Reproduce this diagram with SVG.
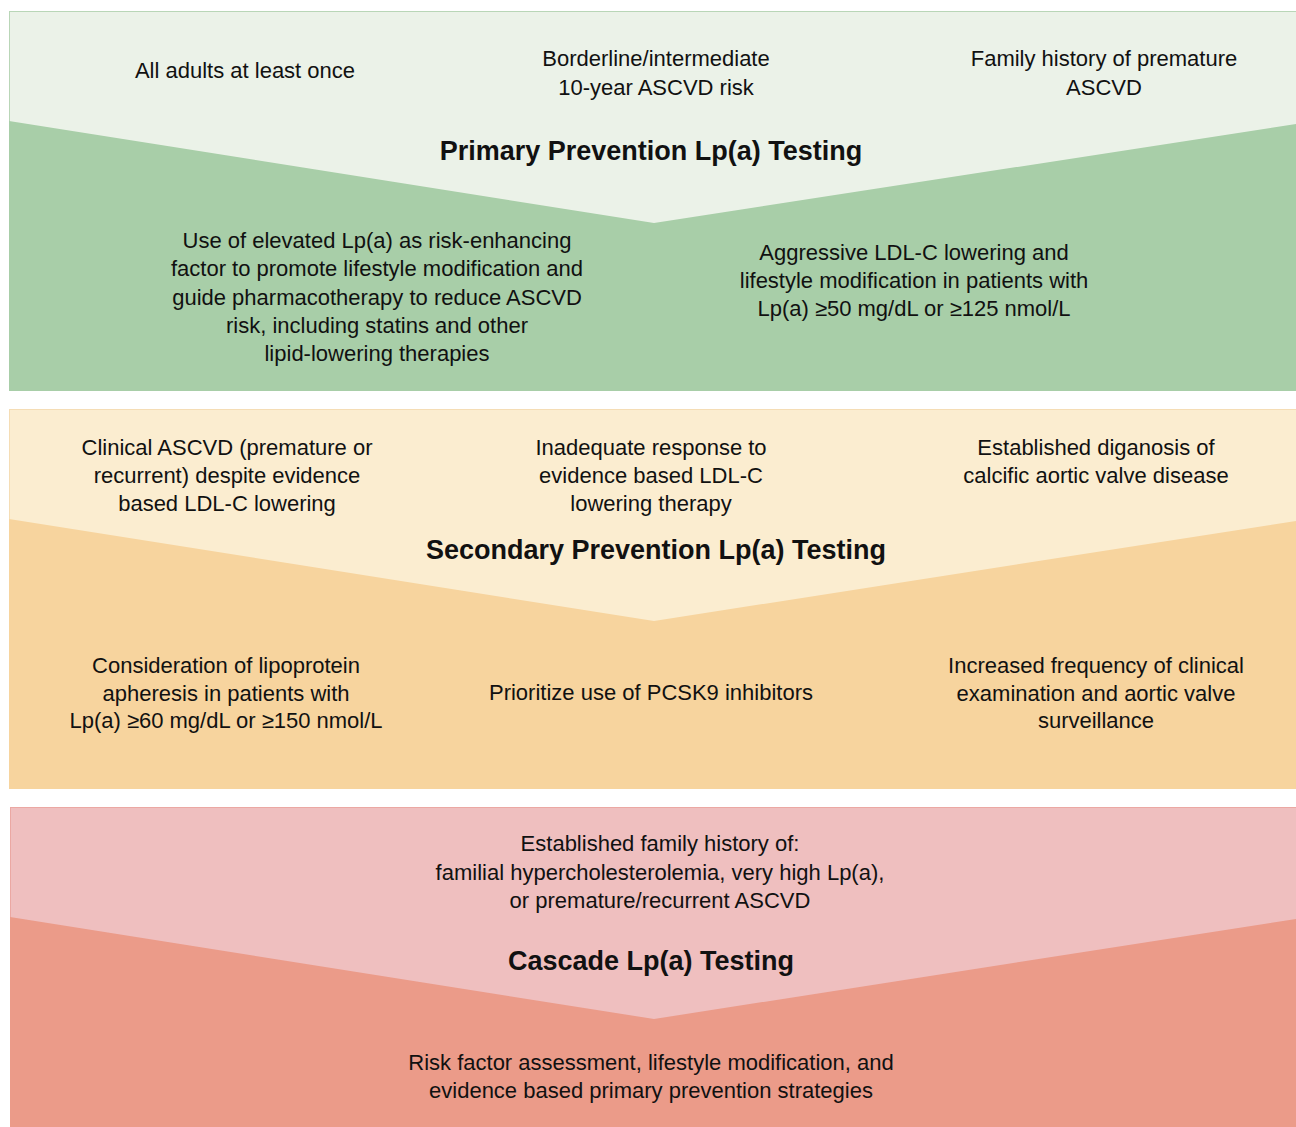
<svg xmlns="http://www.w3.org/2000/svg" width="1296" height="1127" viewBox="0 0 1296 1127">
<style>
text{font-family:"Liberation Sans",Arial,sans-serif;font-size:22px;fill:#111;text-anchor:middle}
.t{font-weight:bold;font-size:27px}
</style>
<rect width="1296" height="1127" fill="#fff"/>
<g id="primary">
<rect x="9.5" y="11.5" width="1290" height="379" fill="#EBF2E8" stroke="#B9D6B7" stroke-width="1"/>
<polygon points="9,121 654,223 1296,124 1296,391 9,391" fill="#A8CEA8"/>
<text x="245" y="78">All adults at least once</text>
<text x="656" y="66">Borderline/intermediate</text>
<text x="656" y="95">10-year ASCVD risk</text>
<text x="1104" y="66">Family history of premature</text>
<text x="1104" y="95">ASCVD</text>
<text class="t" x="651" y="160">Primary Prevention Lp(a) Testing</text>
<text x="377" y="248">Use of elevated Lp(a) as risk-enhancing</text>
<text x="377" y="276">factor to promote lifestyle modification and</text>
<text x="377" y="305">guide pharmacotherapy to reduce ASCVD</text>
<text x="377" y="333">risk, including statins and other</text>
<text x="377" y="361">lipid-lowering therapies</text>
<text x="914" y="260">Aggressive LDL-C lowering and</text>
<text x="914" y="288">lifestyle modification in patients with</text>
<text x="914" y="316">Lp(a) ≥50 mg/dL or ≥125 nmol/L</text>
</g>
<g id="secondary">
<rect x="9.5" y="409.5" width="1290" height="379" fill="#FBEDD0" stroke="#F5DDB5" stroke-width="1"/>
<polygon points="9,519 654,621 1296,521 1296,789 9,789" fill="#F7D49E"/>
<text x="227" y="455">Clinical ASCVD (premature or</text>
<text x="227" y="483">recurrent) despite evidence</text>
<text x="227" y="511">based LDL-C lowering</text>
<text x="651" y="455">Inadequate response to</text>
<text x="651" y="483">evidence based LDL-C</text>
<text x="651" y="511">lowering therapy</text>
<text x="1096" y="455">Established diganosis of</text>
<text x="1096" y="483">calcific aortic valve disease</text>
<text class="t" x="656" y="559">Secondary Prevention Lp(a) Testing</text>
<text x="226" y="673">Consideration of lipoprotein</text>
<text x="226" y="701">apheresis in patients with</text>
<text x="226" y="728">Lp(a) ≥60 mg/dL or ≥150 nmol/L</text>
<text x="651" y="700">Prioritize use of PCSK9 inhibitors</text>
<text x="1096" y="673">Increased frequency of clinical</text>
<text x="1096" y="701">examination and aortic valve</text>
<text x="1096" y="728">surveillance</text>
</g>
<g id="cascade">
<rect x="10.5" y="807.5" width="1290" height="325" fill="#EFBFBF" stroke="#EBA8A3" stroke-width="1"/>
<polygon points="10,917 654,1019 1296,919 1296,1127 10,1127" fill="#EB9B89"/>
<text x="660" y="851">Established family history of:</text>
<text x="660" y="880">familial hypercholesterolemia, very high Lp(a),</text>
<text x="660" y="908">or premature/recurrent ASCVD</text>
<text class="t" x="651" y="970">Cascade Lp(a) Testing</text>
<text x="651" y="1070">Risk factor assessment, lifestyle modification, and</text>
<text x="651" y="1098">evidence based primary prevention strategies</text>
</g>
<g id="connectors"></g>
</svg>
